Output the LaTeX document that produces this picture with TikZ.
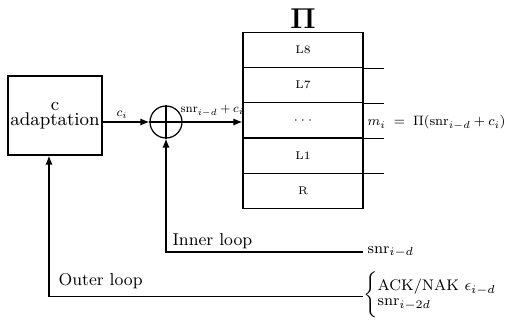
\documentclass[tikz,border=0pt]{standalone}
\usetikzlibrary{arrows.meta}
\begin{document}
\begin{tikzpicture}[x=0.5pt,y=-0.5pt, line width=0.6pt,
  arr/.style={-{Latex[length=4.5pt,width=3.6pt]}},
  lbl/.style={font=\fontsize{8.6}{10}\selectfont, inner sep=0pt},
  mlbl/.style={font=\fontsize{8}{10}\selectfont, inner sep=0pt},
  rowbox/.style={draw, minimum width=60pt, minimum height=17.6pt, inner sep=0pt, font=\fontsize{5.6}{7}\selectfont},
  blockbox/.style={draw, minimum width=47pt, minimum height=39.5pt, align=center, inner sep=0pt, font=\fontsize{9.2}{7.5}\selectfont},
  sumnode/.style={draw, circle, minimum size=16pt, inner sep=0pt}
 ]
\useasboundingbox (0,0) rectangle (507,320);
\node[blockbox] (adapt) at (55,115.5) {c\\adaptation};
\node[sumnode] (sum) at (166,122) {};
\draw (sum.north) -- (sum.south);
\draw (sum.west) -- (sum.east);
\node[font=\fontsize{14}{14}\selectfont, inner sep=0pt] (pi) at (303,19) {$\mathbf{\Pi}$};
\node[rowbox] (l8) at (303,50) {L8};
\node[rowbox] (l7) at (303,85.2) {L7};
\node[rowbox] (dots) at (303,120.4) {$\cdots$};
\node[rowbox] (l1) at (303,155.6) {L1};
\node[rowbox] (r) at (303,190.8) {R};
\foreach \rr in {l8,l7,dots,l1} \draw (\rr.south east) -- ++(20,0);
\draw[arr] (adapt.east |- sum) -- (sum.west);
\draw[arr] (sum.east) -- (sum -| dots.west);
\coordinate (inend) at (363,252);
\draw[arr] (inend) -| (sum.south);
\coordinate (outend) at (363,296.5);
\draw[arr] (outend) -| ([xshift=-3pt]adapt.south);
\node[mlbl, anchor=base] (ci) at (122,117) {\scalebox{0.78}{$c_i$}};
\node[mlbl, anchor=base west] (sumlbl) at (180,113) {\scalebox{0.76}{$\mathrm{snr}_{i-d}+c_i$}};
\node[mlbl, anchor=base west] (mlabel) at (367,126) {\scalebox{0.85}{$m_i\;=\;\Pi(\mathrm{snr}_{i-d}+c_i)$}};
\node[lbl, anchor=base west] (inlbl) at (172,245) {Inner loop};
\node[mlbl, anchor=west] (snrlbl) at ([xshift=2pt]inend) {\scalebox{0.96}{$\mathrm{snr}_{i-d}$}};
\node[lbl, anchor=base west] (outlbl) at (58,285) {Outer loop};
\node[mlbl, anchor=west] (acklbl) at ([yshift=1pt]outend) {\scalebox{0.96}{\renewcommand{\arraystretch}{0.78}$\left\{\rule[-8pt]{0pt}{20pt}\right.\!\!\begin{array}{@{}l@{}}\mbox{ACK/NAK }\epsilon_{i-d}\\ \mathrm{snr}_{i-2d}\end{array}$}};
\end{tikzpicture}
\end{document}
